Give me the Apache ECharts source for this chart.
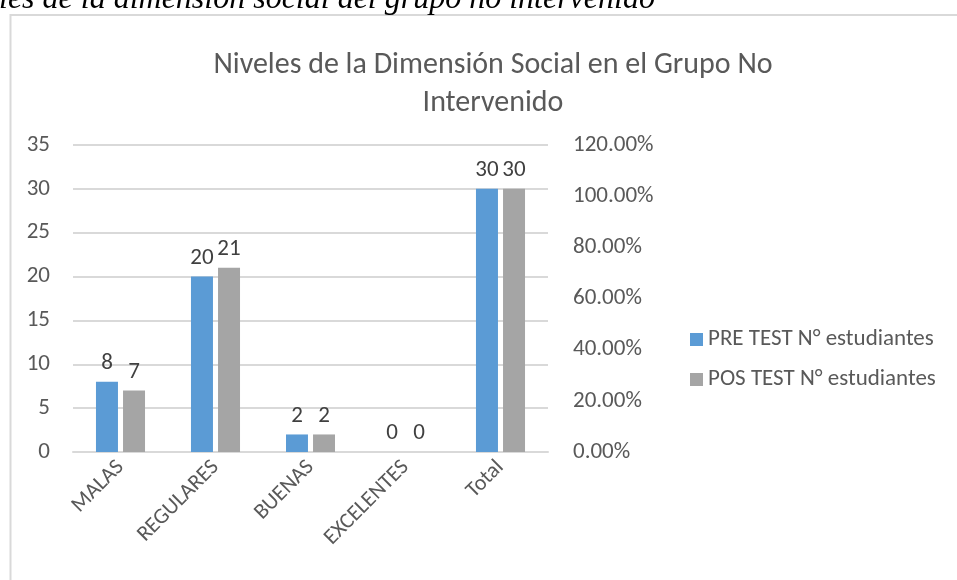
<!DOCTYPE html>
<html>
<head>
<meta charset="utf-8">
<script src="https://cdn.jsdelivr.net/npm/echarts@6/dist/echarts.min.js"></script>
<style>
  html, body { margin: 0; padding: 0; background: #fff; }
  #chart { width: 957px; height: 580px; }
</style>
</head>
<body>
<div id="chart"></div>
<script>
  var categories = ['MALAS', 'REGULARES', 'BUENAS', 'EXCELENTES', 'Total'];
  var preTest = [8, 20, 2, 0, 30];
  var posTest = [7, 21, 2, 0, 30];
  var seriesNames = ['PRE TEST N° estudiantes', 'POS TEST N° estudiantes'];

  var font = 'Carlito, Lato, "Open Sans", sans-serif';
  var chart = echarts.init(document.getElementById('chart'));

  var option = {
    animation: false,
    textStyle: { fontFamily: font },
    graphic: [
      {
        type: 'rect',
        shape: { x: 10.5, y: 15, width: 960, height: 600 },
        style: { fill: 'none', stroke: '#d9d9d9', lineWidth: 2 },
        z: -1
      },
      {
        type: 'text',
        x: -1, y: 0,
        style: {
          text: 'les de la dimensión social del grupo no intervenido',
          font: 'italic 32px "Liberation Serif", serif',
          verticalAlign: 'middle',
          fill: '#000'
        }
      }
    ],
    title: {
      text: 'Niveles de la Dimensión Social en el Grupo No\nIntervenido',
      left: 488, top: 41, textAlign: 'center',
      textStyle: { fontFamily: font, fontWeight: 'normal', fontSize: 30, color: '#595959', lineHeight: 38 }
    },
    legend: {
      orient: 'vertical',
      left: 685, top: 323,
      itemWidth: 13, itemHeight: 13, itemGap: 17,
      icon: 'rect',
      textStyle: { fontFamily: font, fontSize: 23, color: '#595959' },
      data: seriesNames
    },
    grid: { left: 73, right: 409, top: 145, bottom: 128 },
    xAxis: {
      type: 'category',
      data: categories,
      axisTick: { show: false },
      axisLine: { lineStyle: { color: '#d9d9d9', width: 2 } },
      axisLabel: { rotate: 45, fontSize: 22, color: '#595959', margin: 12, interval: 0 }
    },
    yAxis: [
      {
        type: 'value', min: 0, max: 35, interval: 5,
        axisLine: { show: false }, axisTick: { show: false },
        splitLine: { lineStyle: { color: '#d9d9d9', width: 2 } },
        axisLabel: { fontSize: 23, color: '#595959', margin: 23 }
      },
      {
        type: 'value', min: 0, max: 1.2, interval: 0.2,
        axisLine: { show: false }, axisTick: { show: false },
        splitLine: { show: false },
        axisLabel: {
          fontSize: 23, color: '#595959', margin: 25,
          formatter: function (v) { return (v * 100).toFixed(2) + '%'; }
        }
      }
    ],
    series: [
      {
        name: seriesNames[0], type: 'bar', data: preTest,
        barWidth: 22, barGap: '23%',
        itemStyle: { color: '#5b9bd5' },
        label: { show: true, position: 'top', distance: 7, fontSize: 23, color: '#404040' }
      },
      {
        name: seriesNames[1], type: 'bar', data: posTest,
        barWidth: 22,
        itemStyle: { color: '#a5a5a5' },
        label: { show: true, position: 'top', distance: 7, fontSize: 23, color: '#404040' }
      }
    ]
  };
  chart.setOption(option);
</script>
</body>
</html>
